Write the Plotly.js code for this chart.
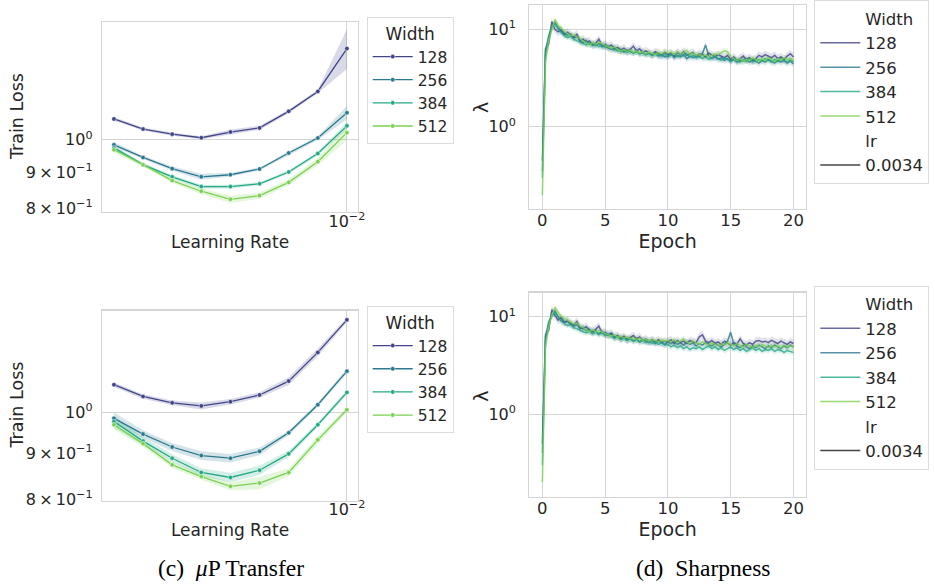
<!DOCTYPE html>
<html>
<head>
<meta charset="utf-8">
<script src="https://cdn.plot.ly/plotly-3.0.1.min.js"></script>
<style>html,body{margin:0;padding:0;background:#fff;}#chart{width:935px;height:587px;}</style>
</head>
<body>
<div id="chart"></div>
<script>
// ---------------- data ----------------
const widths = ['128', '256', '384', '512'];
const learningRates = [0.001585, 0.001995, 0.002512, 0.003162, 0.003981, 0.005012, 0.00631, 0.007943, 0.01];

// panel (top-left) train loss
const lossTop128 = [1.071, 1.036, 1.019, 1.007, 1.026, 1.040, 1.098, 1.172, 1.349];
const lossTop256 = [0.984, 0.944, 0.910, 0.886, 0.892, 0.909, 0.958, 1.006, 1.093];
const lossTop384 = [0.974, 0.922, 0.886, 0.858, 0.858, 0.866, 0.900, 0.956, 1.047];
const lossTop512 = [0.968, 0.922, 0.875, 0.845, 0.823, 0.833, 0.870, 0.931, 1.024];
const spreadTop128 = [0.006, 0.005, 0.005, 0.005, 0.008, 0.007, 0.006, 0.006, 0.065];
const spreadTop256 = [0.008, 0.006, 0.007, 0.010, 0.006, 0.005, 0.006, 0.006, 0.022];
const spreadTop384 = [0.006, 0.005, 0.006, 0.006, 0.006, 0.005, 0.006, 0.006, 0.012];
const spreadTop512 = [0.010, 0.006, 0.008, 0.010, 0.012, 0.010, 0.010, 0.012, 0.025];

// panel (bottom-left, muP transfer) train loss
const lossBot128 = [1.074, 1.042, 1.025, 1.017, 1.028, 1.046, 1.084, 1.167, 1.269];
const lossBot256 = [0.985, 0.946, 0.915, 0.895, 0.889, 0.905, 0.949, 1.020, 1.112];
const lossBot384 = [0.977, 0.929, 0.889, 0.857, 0.846, 0.862, 0.899, 0.969, 1.053];
const lossBot512 = [0.969, 0.923, 0.874, 0.848, 0.827, 0.834, 0.857, 0.932, 1.007];
const spreadBot128 = [0.006, 0.006, 0.006, 0.009, 0.007, 0.007, 0.010, 0.010, 0.006];
const spreadBot256 = [0.015, 0.010, 0.010, 0.011, 0.011, 0.010, 0.006, 0.006, 0.006];
const spreadBot384 = [0.015, 0.010, 0.010, 0.010, 0.012, 0.012, 0.008, 0.006, 0.006];
const spreadBot512 = [0.012, 0.008, 0.008, 0.008, 0.010, 0.016, 0.010, 0.010, 0.006];

// sharpness panels
const epochs = [0, 0.25, 0.5, 0.75, 1, 1.25, 1.5, 1.75, 2, 2.25, 2.5, 2.75, 3, 3.25, 3.5, 3.75, 4, 4.25, 4.5, 4.75,
  5, 5.25, 5.5, 5.75, 6, 6.25, 6.5, 6.75, 7, 7.25, 7.5, 7.75, 8, 8.25, 8.5, 8.75, 9, 9.25, 9.5, 9.75,
  10, 10.25, 10.5, 10.75, 11, 11.25, 11.5, 11.75, 12, 12.25, 12.5, 12.75, 13, 13.25, 13.5, 13.75, 14, 14.25, 14.5, 14.75,
  15, 15.25, 15.5, 15.75, 16, 16.25, 16.5, 16.75, 17, 17.25, 17.5, 17.75, 18, 18.25, 18.5, 18.75, 19, 19.25, 19.5, 19.75, 20];

const sharpTop128 = [0.45, 6.3, 7.0, 12.0, 10.0, 9.4, 9.9, 8.9, 9.3, 8.6, 8.3, 8.9, 7.7, 7.9, 7.3, 7.6, 6.9, 7.2, 7.9, 6.8,
  7.0, 6.6, 6.9, 6.3, 6.5, 6.1, 6.4, 5.9, 6.2, 6.7, 6.0, 6.3, 5.8, 6.0, 5.7, 5.5, 5.9, 5.6, 5.4, 5.8,
  5.5, 5.7, 5.3, 5.8, 5.5, 5.9, 5.4, 5.6, 5.8, 5.3, 5.6, 5.5, 5.2, 5.7, 5.4, 5.2, 5.5, 5.3, 5.1, 5.4,
  4.9, 5.2, 4.8, 5.0, 5.3, 4.9, 5.1, 4.8, 5.0, 5.4, 5.2, 5.5, 5.3, 5.1, 5.4, 5.0, 5.2, 4.9, 5.3, 5.6, 5.2];
const sharpTop256 = [0.35, 6.0, 8.5, 10.5, 11.8, 10.4, 9.5, 9.0, 8.7, 8.9, 8.1, 8.4, 7.6, 7.3, 7.7, 7.0, 7.2, 6.8, 7.1, 6.6,
  6.8, 6.4, 6.2, 6.5, 6.0, 6.2, 5.8, 6.1, 5.9, 5.7, 6.0, 5.6, 5.8, 5.5, 5.7, 5.4, 5.6, 5.3, 5.5, 5.2,
  5.3, 5.6, 5.1, 5.4, 5.2, 5.5, 5.0, 5.3, 5.1, 5.4, 5.2, 5.6, 6.9, 5.3, 5.0, 5.2, 4.9, 5.1, 4.8, 5.0,
  4.7, 4.9, 4.6, 4.8, 4.7, 4.9, 4.6, 4.8, 4.7, 4.5, 4.8, 4.6, 4.9, 4.7, 4.5, 4.8, 4.6, 4.8, 4.5, 4.7, 4.4];
const sharpTop384 = [0.3, 5.5, 8.0, 10.8, 11.2, 10.0, 9.2, 8.6, 8.2, 8.5, 7.9, 7.6, 7.4, 7.1, 6.9, 7.2, 6.8, 7.0, 6.6, 6.9,
  6.5, 6.7, 6.3, 6.1, 6.3, 5.9, 6.1, 5.8, 6.0, 5.7, 5.9, 5.6, 5.8, 5.5, 5.7, 5.4, 5.6, 5.5, 5.3, 5.5,
  5.2, 5.4, 5.6, 5.2, 5.5, 5.3, 5.6, 5.2, 5.4, 5.1, 5.3, 5.0, 5.2, 4.9, 5.1, 5.3, 5.0, 4.8, 5.1, 4.9,
  4.7, 5.0, 4.8, 4.6, 4.9, 4.7, 5.0, 4.6, 4.8, 4.9, 4.7, 5.0, 4.8, 4.6, 4.9, 4.7, 5.0, 4.8, 4.6, 4.9, 4.6];
const sharpTop512 = [0.2, 4.5, 7.5, 10.0, 12.6, 11.0, 10.2, 9.5, 9.0, 8.6, 8.8, 8.3, 8.0, 7.6, 7.2, 6.9, 7.3, 7.0, 7.4, 7.1,
  6.8, 6.6, 6.4, 6.6, 6.2, 6.0, 6.2, 5.9, 6.1, 5.8, 6.0, 5.7, 5.9, 5.6, 5.8, 5.7, 5.5, 5.8, 5.6, 5.9,
  5.7, 5.8, 5.5, 5.9, 5.6, 5.8, 6.1, 5.5, 5.7, 5.4, 5.6, 5.3, 5.5, 5.2, 5.4, 5.6, 5.5, 5.8, 6.0, 5.9,
  5.2, 5.0, 4.8, 5.0, 4.7, 4.9, 4.8, 5.1, 4.9, 4.7, 5.0, 4.8, 5.1, 4.9, 4.7, 5.0, 4.8, 5.1, 4.9, 5.0, 4.8];

const sharpBot128 = [0.5, 6.5, 7.2, 11.8, 10.3, 9.2, 9.8, 8.8, 9.1, 8.5, 8.2, 8.9, 7.8, 7.5, 7.9, 7.2, 7.0, 7.4, 8.0, 6.8,
  6.9, 6.5, 6.8, 6.2, 6.4, 6.0, 6.3, 5.8, 6.1, 6.4, 5.9, 6.2, 5.7, 5.9, 5.6, 5.8, 5.5, 5.8, 5.4, 5.6,
  5.5, 5.8, 5.3, 5.7, 5.4, 5.6, 5.3, 5.7, 5.5, 5.4, 6.2, 6.5, 5.6, 5.4, 5.7, 5.3, 5.5, 5.2, 5.6, 5.3,
  5.1, 5.4, 5.2, 5.9, 5.3, 5.1, 5.4, 5.2, 5.6, 5.7, 5.5, 5.6, 5.4, 5.7, 5.5, 5.3, 5.6, 5.4, 5.2, 5.5, 5.3];
const sharpBot256 = [0.4, 6.2, 8.8, 10.2, 11.5, 10.0, 9.1, 8.7, 8.9, 8.4, 8.0, 8.3, 7.5, 7.8, 7.2, 7.4, 6.9, 7.1, 6.7, 7.0,
  6.6, 6.4, 6.6, 6.1, 6.3, 5.9, 6.1, 5.8, 6.0, 5.6, 5.9, 5.5, 5.8, 5.6, 5.4, 5.7, 5.3, 5.6, 5.4, 5.2,
  5.5, 5.3, 5.6, 5.2, 5.4, 5.1, 5.5, 5.2, 5.4, 5.0, 5.3, 5.1, 5.4, 5.2, 5.0, 5.3, 5.1, 4.9, 5.2, 5.6,
  6.9, 5.2, 5.0, 4.8, 5.1, 4.9, 4.7, 5.0, 4.8, 5.1, 4.9, 4.7, 5.0, 4.8, 5.1, 4.9, 4.7, 5.0, 4.8, 5.1, 4.9];
const sharpBot384 = [0.3, 5.6, 8.2, 10.6, 11.0, 9.8, 9.0, 8.5, 8.1, 8.3, 7.7, 7.5, 7.2, 7.0, 6.8, 7.1, 6.7, 6.9, 6.5, 6.8,
  6.4, 6.6, 6.2, 6.0, 6.2, 5.8, 6.0, 5.7, 5.9, 5.6, 5.8, 5.5, 5.7, 5.4, 5.6, 5.3, 5.5, 5.2, 5.4, 5.1,
  5.2, 4.9, 5.1, 4.8, 5.0, 4.7, 4.9, 4.6, 4.8, 4.7, 4.9, 4.6, 4.8, 5.0, 4.7, 4.9, 4.6, 4.8, 4.5, 4.7,
  4.9, 4.6, 4.8, 4.5, 4.7, 4.4, 4.6, 4.8, 4.5, 4.7, 4.4, 4.6, 4.5, 4.7, 4.4, 4.6, 4.5, 4.3, 4.5, 4.4, 4.3];
const sharpBot512 = [0.2, 4.8, 7.8, 10.2, 12.4, 11.2, 10.0, 9.6, 9.2, 8.7, 8.4, 8.6, 8.0, 7.7, 7.3, 7.0, 7.4, 6.9, 7.2, 7.0,
  6.7, 6.5, 6.3, 6.5, 6.1, 6.3, 6.0, 6.2, 5.9, 6.1, 5.8, 6.0, 5.7, 5.9, 5.6, 5.8, 5.7, 5.5, 5.8, 5.6,
  5.7, 5.5, 5.8, 5.4, 5.6, 5.9, 5.5, 5.3, 5.6, 5.4, 5.2, 5.5, 5.3, 5.1, 5.4, 5.2, 5.0, 5.3, 5.1, 5.4,
  5.2, 5.0, 5.3, 5.1, 4.9, 5.2, 5.0, 4.8, 5.1, 4.9, 5.2, 5.0, 4.8, 5.1, 4.9, 5.0, 4.8, 5.1, 4.9, 5.0, 4.9];
const sharpSpread = [0.10, 0.08, 0.07, 0.08];
const lrLabel = '0.0034';

const lossTickVals = [0.8, 0.9, 1];
const lossTickText = ['8\u2009×\u200910<sup>−1</sup>', '9\u2009×\u200910<sup>−1</sup>', '10<sup>0</sup>'];
const lrTickVals = [0.01];
const lrTickText = ['10<sup>−2</sup>'];
const sharpTickVals = [1, 10];
const sharpTickText = ['10<sup>0</sup>', '10<sup>1</sup>'];
const epochTickVals = [0, 5, 10, 15, 20];

// ---------------- styling ----------------
const colors = ['#414487', '#2a788e', '#22a884', '#7ad151'];
const bandColors = ['rgba(65,68,135,0.2)', 'rgba(42,120,142,0.2)', 'rgba(34,168,132,0.2)', 'rgba(122,209,81,0.2)'];
const FONT = "'DejaVu Sans', sans-serif";
const SERIF = "'Liberation Serif', 'Times New Roman', serif";
const TXT = '#262626';
const GRID = '#d5d5d5';
const TICKFS = 16;
const LFS = 15.5;
const font = s => ({family: FONT, size: s, color: TXT});

const W = 935, H = 587;
const px = v => v / W;
const py = v => 1 - v / H;

const traces = [];

function lossPanel(series, spreads, xa, ya, legendId) {
  series.forEach((vals, i) => {
    const up = vals.map((v, k) => v * (1 + spreads[i][k]));
    const lo = vals.map((v, k) => v * (1 - spreads[i][k]));
    traces.push({
      x: learningRates.concat(learningRates.slice().reverse()),
      y: up.concat(lo.slice().reverse()),
      xaxis: xa, yaxis: ya, type: 'scatter', mode: 'lines', fill: 'toself',
      fillcolor: bandColors[i], line: {width: 0}, hoverinfo: 'skip', showlegend: false
    });
  });
  series.forEach((vals, i) => {
    traces.push({
      x: learningRates, y: vals, xaxis: xa, yaxis: ya, type: 'scatter', mode: 'lines+markers',
      name: widths[i], legend: legendId,
      line: {color: colors[i], width: 1.3},
      marker: {color: colors[i], size: 4.5, line: {color: '#ffffff', width: 0.5}}
    });
  });
}

function sharpPanel(series, xa, ya, legendId) {
  series.forEach((vals, i) => {
    const up = vals.map(v => v * (1 + sharpSpread[i]));
    const lo = vals.map(v => v * (1 - sharpSpread[i]));
    traces.push({
      x: epochs.concat(epochs.slice().reverse()),
      y: up.concat(lo.slice().reverse()),
      xaxis: xa, yaxis: ya, type: 'scatter', mode: 'lines', fill: 'toself',
      fillcolor: bandColors[i].replace('0.2)', '0.15)'), line: {width: 0}, hoverinfo: 'skip', showlegend: false
    });
  });
  traces.push({x: [null], y: [null], xaxis: xa, yaxis: ya, mode: 'lines', name: 'Width',
    legend: legendId, legendgroup: legendId + 'h1', line: {color: 'rgba(0,0,0,0)', width: 0}});
  series.forEach((vals, i) => {
    traces.push({
      x: epochs, y: vals, xaxis: xa, yaxis: ya, type: 'scatter', mode: 'lines',
      name: widths[i], legend: legendId, legendgroup: legendId + 'g' + i, opacity: 0.8,
      line: {color: colors[i], width: 1.5}
    });
  });
  traces.push({x: [null], y: [null], xaxis: xa, yaxis: ya, mode: 'lines', name: 'lr',
    legend: legendId, legendgroup: legendId + 'h2', line: {color: 'rgba(0,0,0,0)', width: 0}});
  traces.push({x: [null], y: [null], xaxis: xa, yaxis: ya, mode: 'lines', name: lrLabel,
    legend: legendId, legendgroup: legendId + 'h3', line: {color: '#444444', width: 1.5}});
}

lossPanel([lossTop128, lossTop256, lossTop384, lossTop512],
          [spreadTop128, spreadTop256, spreadTop384, spreadTop512], 'x', 'y', 'legend');
sharpPanel([sharpTop128, sharpTop256, sharpTop384, sharpTop512], 'x2', 'y2', 'legend2');
lossPanel([lossBot128, lossBot256, lossBot384, lossBot512],
          [spreadBot128, spreadBot256, spreadBot384, spreadBot512], 'x3', 'y3', 'legend3');
sharpPanel([sharpBot128, sharpBot256, sharpBot384, sharpBot512], 'x4', 'y4', 'legend4');
// invisible carriers for the grid-only overlay axes
traces.push({x: [null], y: [null], xaxis: 'x', yaxis: 'y5', mode: 'lines', showlegend: false, hoverinfo: 'skip'});
traces.push({x: [null], y: [null], xaxis: 'x3', yaxis: 'y6', mode: 'lines', showlegend: false, hoverinfo: 'skip'});

const baseAxis = {
  showline: true, mirror: true, linecolor: GRID, linewidth: 1.2,
  gridcolor: GRID, gridwidth: 1, zeroline: false,
  ticks: 'outside', tickcolor: 'rgba(0,0,0,0)',
  tickfont: font(TICKFS), automargin: false
};

const xLR = (dom) => Object.assign({}, baseAxis, {
  type: 'log', domain: dom, range: [-2.841, -1.962], tickmode: 'array', tickvals: lrTickVals, ticktext: lrTickText,
  ticklen: 0, ticklabelstandoff: -6, title: {text: 'Learning Rate', font: font(17), standoff: 6}
});
const yLoss = (dom, rng, anchor) => Object.assign({}, baseAxis, {
  type: 'log', domain: dom, range: rng, anchor: anchor, tickmode: 'array', tickvals: lossTickVals, ticktext: lossTickText,
  showgrid: false, ticklen: 5
});
const yLossGrid = (over, rng, anchor) => ({
  type: 'log', overlaying: over, anchor: anchor, range: rng, tickmode: 'array', tickvals: [1],
  showticklabels: false, showgrid: true, gridcolor: GRID, gridwidth: 1, showline: false, zeroline: false, ticks: ''
});
const xEpoch = (dom, anchor) => Object.assign({}, baseAxis, {
  domain: dom, anchor: anchor, range: [-1.04, 21.0], tickmode: 'array', tickvals: epochTickVals, ticklen: 0,
  ticklabelstandoff: -4, tickfont: font(16.5),
  title: {text: 'Epoch', font: font(19), standoff: 0}
});
const ySharp = (dom, rng, anchor) => Object.assign({}, baseAxis, {
  type: 'log', domain: dom, range: rng, anchor: anchor, tickmode: 'array', tickvals: sharpTickVals, ticktext: sharpTickText,
  ticklen: 9
});

const legendBase = {
  bgcolor: '#ffffff', bordercolor: '#dcdcdc', borderwidth: 1,
  font: font(LFS), xanchor: 'left', yanchor: 'top', itemwidth: 40
};
const leftLegend = (x, y) => Object.assign({}, legendBase, {
  x: x, y: y, title: {text: 'Width', side: 'top center', font: font(17)}
});
const rightLegend = (x, y) => Object.assign({}, legendBase, {
  x: x, y: y, traceorder: 'grouped', tracegroupgap: 0, font: font(16.5)
});

const topLossRange = [-0.103, 0.168];
const botLossRange = [-0.0986, 0.1137];

const yTitle = (text, x, y, size) => ({
  text: text, xref: 'paper', yref: 'paper', x: px(x), y: py(y), xanchor: 'center', yanchor: 'middle',
  textangle: -90, showarrow: false, font: font(size)
});

const layout = {
  width: W, height: H, margin: {l: 0, r: 0, t: 0, b: 0, pad: 0},
  paper_bgcolor: '#ffffff', plot_bgcolor: '#ffffff',
  font: font(TICKFS),
  showlegend: true,
  xaxis: Object.assign(xLR([px(102), px(358)]), {anchor: 'y'}),
  yaxis: yLoss([py(209), py(17)], topLossRange, 'x'),
  yaxis5: yLossGrid('y', topLossRange, 'x'),
  xaxis2: xEpoch([px(529.3), px(806)], 'y2'),
  yaxis2: ySharp([py(206), py(0.5)], [-0.844, 1.243], 'x2'),
  xaxis3: Object.assign(xLR([px(102), px(358)]), {anchor: 'y3'}),
  yaxis3: yLoss([py(500), py(308.3)], botLossRange, 'x3'),
  yaxis6: yLossGrid('y3', botLossRange, 'x3'),
  xaxis4: xEpoch([px(529.3), px(806)], 'y4'),
  yaxis4: ySharp([py(496), py(290)], [-0.847, 1.247], 'x4'),
  legend: leftLegend(px(366.7), py(12)),
  legend2: rightLegend(px(814.3), py(-5)),
  legend3: leftLegend(px(366.7), py(303.5)),
  legend4: rightLegend(px(814.3), py(283)),
  annotations: [
    yTitle('Train Loss', 17, 113, 17.5),
    yTitle('Train Loss', 17, 404, 17.5),
    yTitle('λ', 481, 103, 19),
    yTitle('λ', 481, 394, 19),
    {text: '(c)  <i>μ</i>P Transfer', xref: 'paper', yref: 'paper', x: px(231), y: py(568), xanchor: 'center', yanchor: 'middle',
     showarrow: false, font: {family: SERIF, size: 23.5, color: '#000000'}},
    {text: '(d)  Sharpness', xref: 'paper', yref: 'paper', x: px(703), y: py(568), xanchor: 'center', yanchor: 'middle',
     showarrow: false, font: {family: SERIF, size: 23.5, color: '#000000'}}
  ]
};

Plotly.newPlot('chart', traces, layout, {displayModeBar: false, staticPlot: true});
</script>
</body>
</html>
